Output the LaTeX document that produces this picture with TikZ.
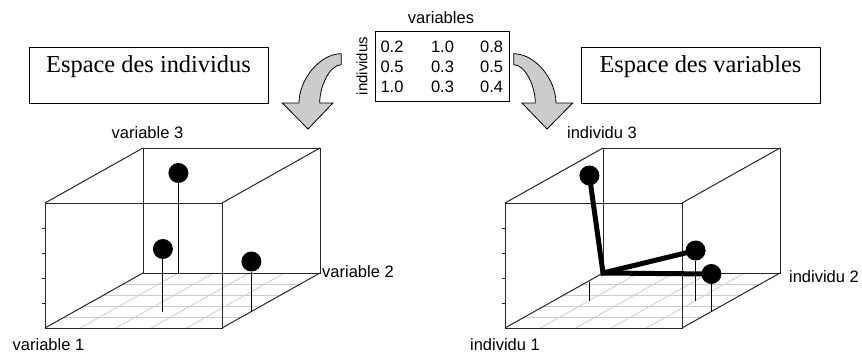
\documentclass[tikz,border=0pt]{standalone}
\usepackage{fontspec}
\setmainfont{Liberation Sans}
\newfontfamily\titlefont{Liberation Serif}
\usepackage{tikz}

\tikzset{
  lbl/.style={font=\fontsize{16.5}{19}\selectfont, inner sep=0pt},
  titlebox/.style={draw, line width=1pt, inner xsep=0pt, inner ysep=0pt,
    minimum width=239pt, text height=25.7pt, text depth=30.3pt,
    font=\titlefont\fontsize{24.4}{28}\selectfont},
  frame/.style={line width=1pt, black!85},
  gridline/.style={line width=0.8pt, gray!40},
  ball/.style={circle, fill=black, minimum size=20pt, inner sep=0pt},
  stem/.style={line width=1pt},
  vecline/.style={line width=5pt, line cap=round},
  bent/.style={fill=gray!40, draw=black, line width=0.8pt}
}

\newcommand{\bentarrow}{(33.3,-75.3) .. controls (11.7,-75.3) and (-9,-49.3) .. (-9,-26)
  -- (-25.7,-26) -- (0,0) -- (25,-26) -- (11.7,-26)
  .. controls (11.7,-42.7) and (21.7,-64.3) .. (33.3,-64.3) -- cycle}

\begin{document}
\begin{tikzpicture}[x=1pt, y=-1pt]
  \useasboundingbox (0,0) rectangle (862,356);

  % Title boxes
  \node[titlebox] (espind) at (148.5,75) {Espace des individus};
  \node[titlebox] (espvar) at (700.5,75) {Espace des variables};

  % Data table
  \node[lbl] (varlbl) at (441,18) {variables};
  \node[lbl, font=\fontsize{15}{18}\selectfont, rotate=90] (indlbl) at (362,66) {individus};
  \draw[line width=1pt] (375,31) rectangle (509,101);
  \foreach \r/\a/\b/\c in {1/0.2/1.0/0.8, 2/0.5/0.3/0.5, 3/1.0/0.3/0.4} {
    \node[lbl] (m\r a) at (392,{27+20*\r}) {\a};
    \node[lbl] (m\r b) at (442.5,{27+20*\r}) {\b};
    \node[lbl] (m\r c) at (491.7,{27+20*\r}) {\c};
  }

  % Bent arrows
  \begin{scope}[shift={(308,129)}]
    \draw[bent] \bentarrow;
  \end{scope}
  \begin{scope}[shift={(547,129)}, xscale=-1]
    \draw[bent] \bentarrow;
  \end{scope}

  % Cubes: floor grid, edges and ticks
  \foreach \ox in {45,505} {
    \begin{scope}[shift={(\ox,328)}, x={(177pt,0pt)}, y={(98pt,55pt)}, z={(0pt,125pt)}]
      \foreach \i in {0.2,0.4,0.6,0.8} {
        \draw[gridline] (\i,0,0) -- (\i,1,0);
        \draw[gridline] (0,\i,0) -- (1,\i,0);
      }
      \draw[frame] (0,0,0) -- (1,0,0) -- (1,0,1) -- (0,0,1) -- cycle;
      \draw[frame] (0,1,0) -- (1,1,0) -- (1,1,1) -- (0,1,1) -- cycle;
      \draw[frame] (0,0,0) -- (0,1,0);
      \draw[frame] (1,0,0) -- (1,1,0);
      \draw[frame] (0,0,1) -- (0,1,1);
      \draw[frame] (1,0,1) -- (1,1,1);
      \foreach \t in {0.2,0.4,0.6,0.8}
        \draw[frame] (0,0,\t) -- ++(-3pt,0pt);
    \end{scope}
  }

  % Space of individuals
  \begin{scope}[shift={(45,328)}, x={(177pt,0pt)}, y={(98pt,55pt)}, z={(0pt,125pt)}]
    \coordinate (fa) at (0.2,1.0,0);
    \coordinate (fb) at (0.5,0.3,0);
    \coordinate (fc) at (1.0,0.3,0);
    \node[ball] (ia) at (0.2,1.0,0.8) {};
    \node[ball] (ib) at (0.5,0.3,0.5) {};
    \node[ball] (ic) at (1.0,0.3,0.4) {};
    \draw[stem] (ia) -- (fa);
    \draw[stem] (ib) -- (fb);
    \draw[stem] (ic) -- (fc);
  \end{scope}

  % Space of variables
  \begin{scope}[shift={(505,328)}, x={(177pt,0pt)}, y={(98pt,55pt)}, z={(0pt,125pt)}]
    \coordinate (o) at (0,1,0);
    \coordinate (ga) at (0.2,0.5,0);
    \coordinate (gs) at (0.2,0.5,0.15);
    \coordinate (gb) at (1.0,0.3,0);
    \coordinate (gc) at (0.8,0.5,0);
    \node[ball] (va) at (0.2,0.5,1.0) {};
    \node[ball] (vb) at (1.0,0.3,0.3) {};
    \node[ball] (vc) at (0.8,0.5,0.4) {};
    \draw[stem] (ga) -- (gs);
    \draw[stem] (vb) -- (gb);
    \draw[stem] (vc) -- (gc);
    \draw[vecline] (va.center) -- (o) -- (vc.center);
    \draw[vecline] (o) -- (vb.center);
  \end{scope}

  % Axis labels
  \node[lbl] (v3) at (147.5,133) {variable 3};
  \node[lbl] (v1) at (48.5,345) {variable 1};
  \node[lbl, anchor=west] (v2) at (322,272) {variable 2};
  \node[lbl] (i3) at (602,133) {individu 3};
  \node[lbl] (i2) at (824,277) {individu 2};
  \node[lbl] (i1) at (505,345) {individu 1};
\end{tikzpicture}
\end{document}
